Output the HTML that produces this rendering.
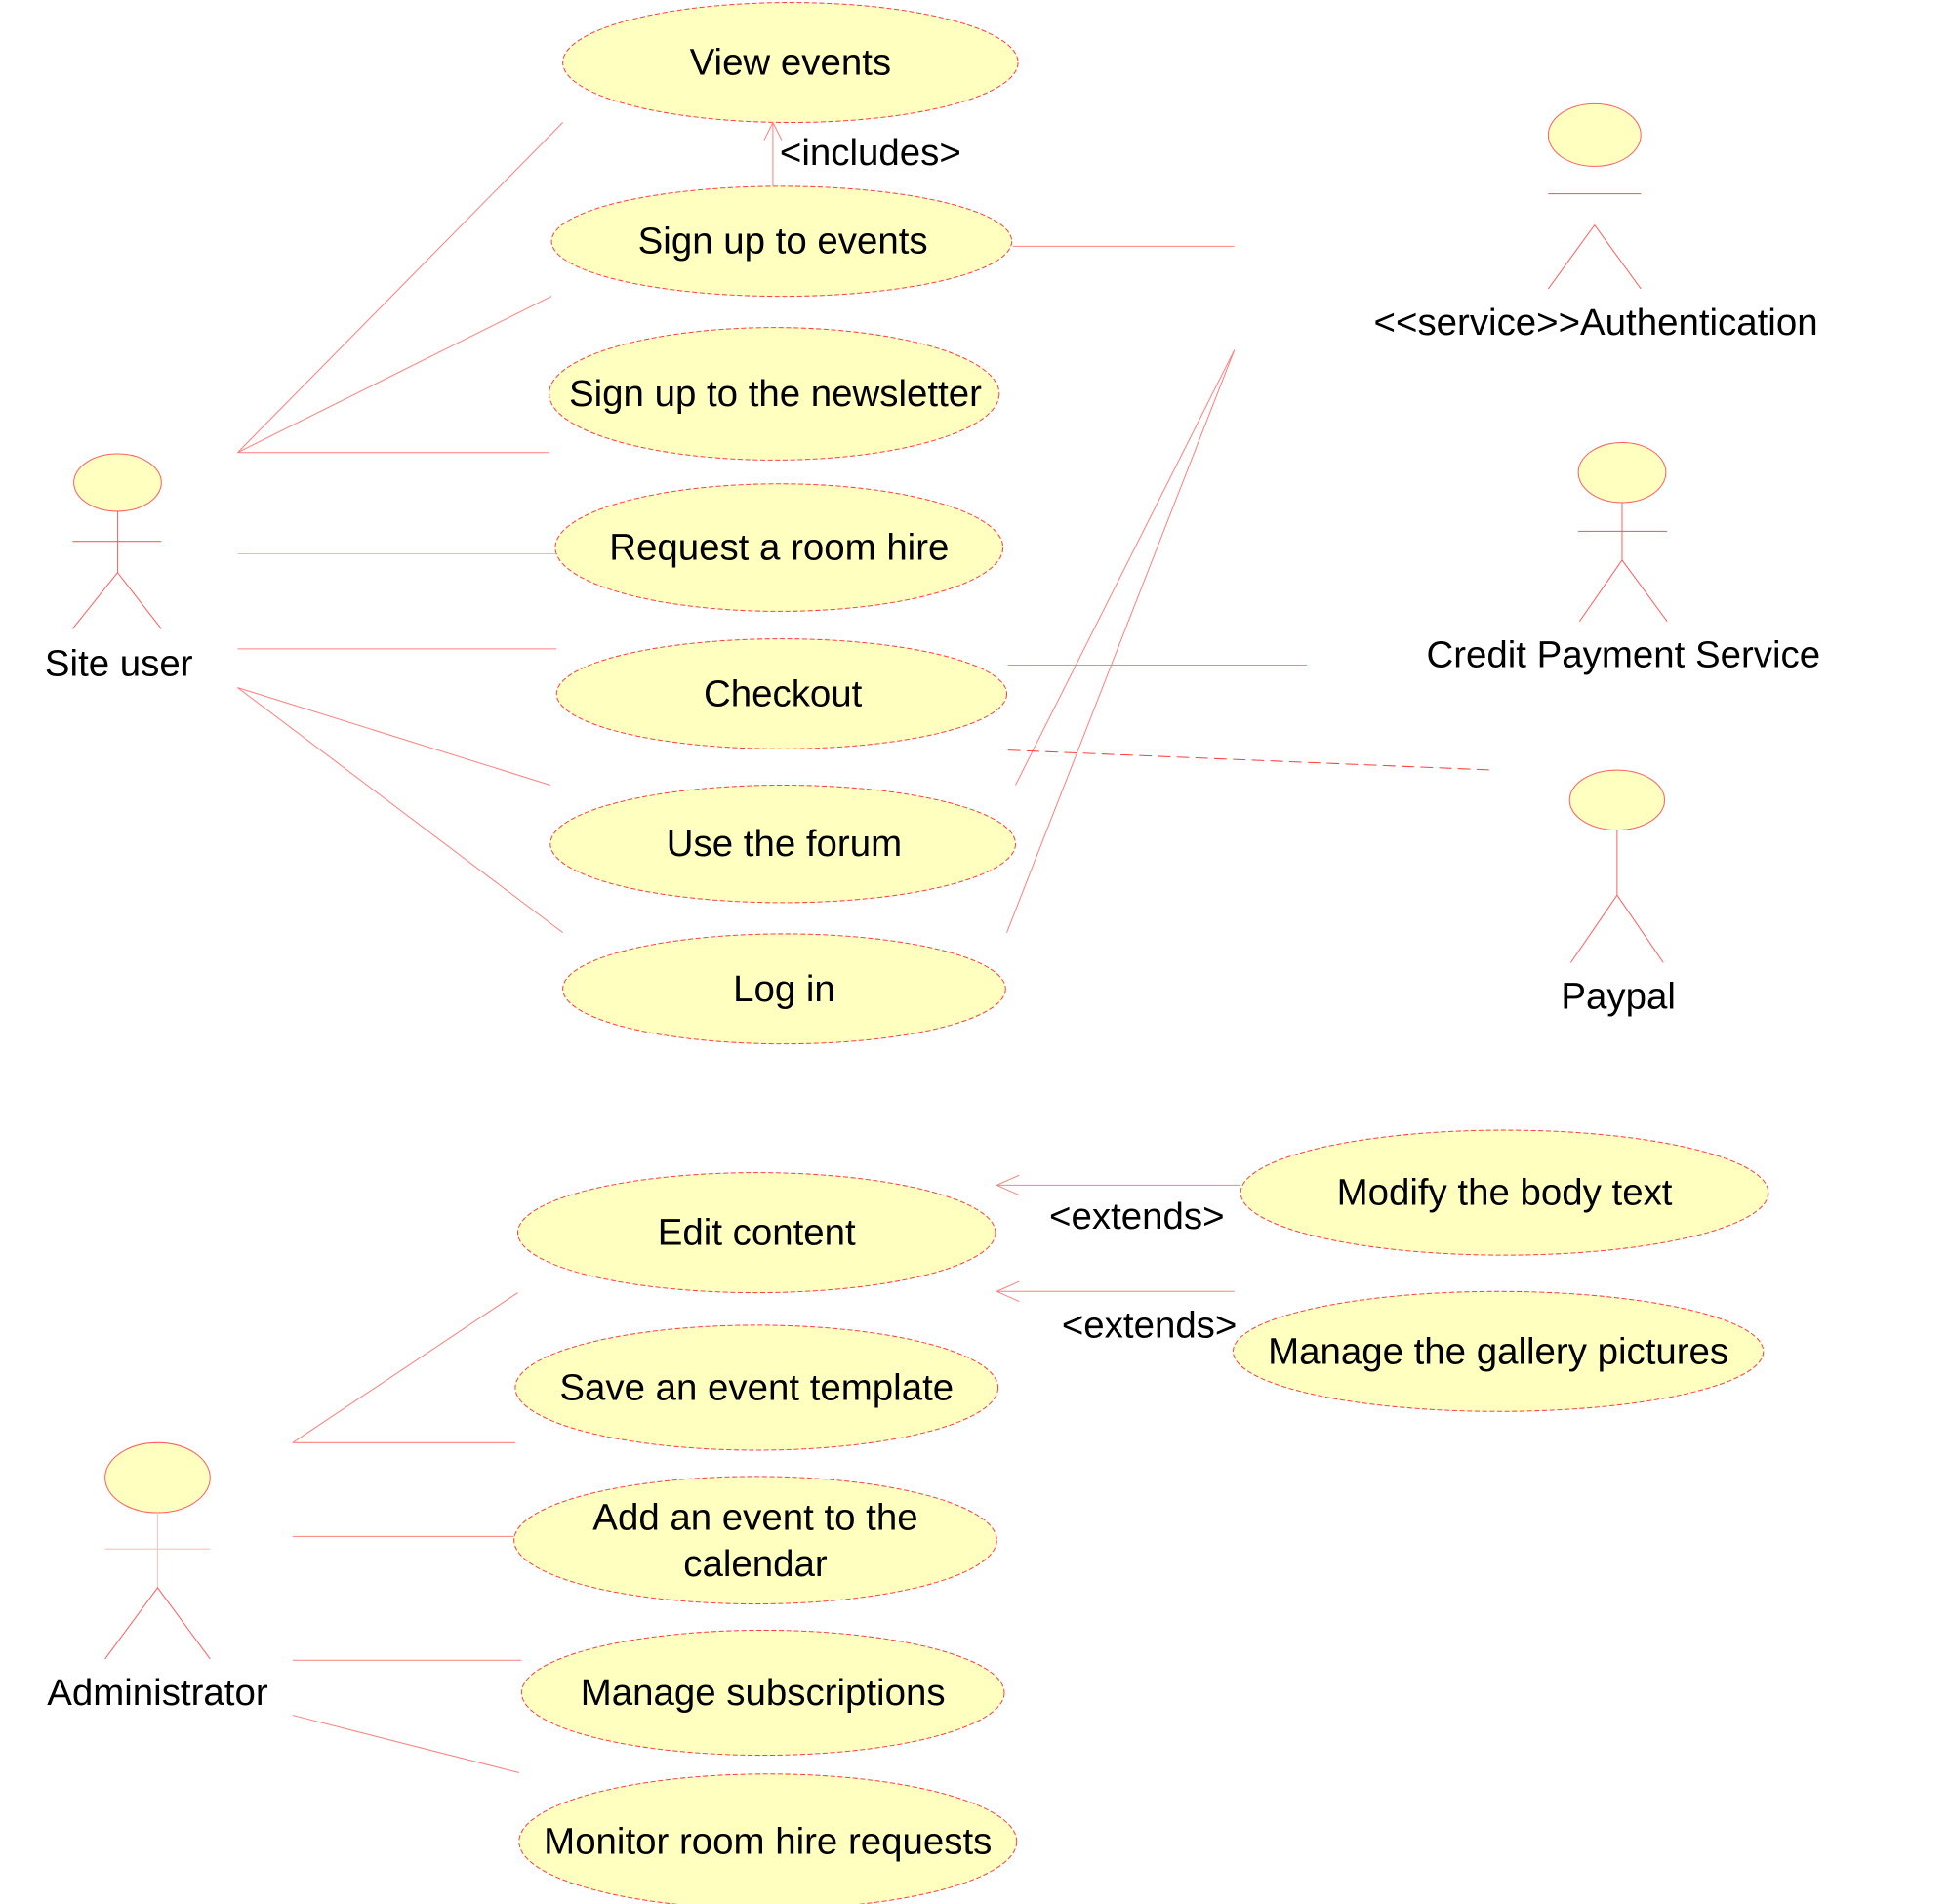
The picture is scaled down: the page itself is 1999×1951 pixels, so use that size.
<!DOCTYPE html>
<html><head><meta charset="utf-8"><style>html,body{margin:0;padding:0;background:#fff;}svg{display:block;}</style></head>
<body>
<svg width="1999" height="1951" viewBox="0 0 1560 1523" preserveAspectRatio="none" xmlns="http://www.w3.org/2000/svg">
<g fill="#ffffc0" stroke="#ff4040" stroke-width="0.8" stroke-dasharray="4,2">
<ellipse cx="632" cy="50" rx="182" ry="48"/>
<ellipse cx="625" cy="193" rx="184" ry="44"/>
<ellipse cx="619" cy="315" rx="180" ry="53"/>
<ellipse cx="623" cy="438" rx="179" ry="51"/>
<ellipse cx="625" cy="555" rx="180" ry="44"/>
<ellipse cx="626" cy="675" rx="186" ry="47"/>
<ellipse cx="627" cy="791" rx="177" ry="44"/>
<ellipse cx="605" cy="986" rx="191" ry="48"/>
<ellipse cx="605" cy="1110" rx="193" ry="50"/>
<ellipse cx="604" cy="1232" rx="193" ry="51"/>
<ellipse cx="610" cy="1354" rx="193" ry="50"/>
<ellipse cx="614" cy="1473" rx="199" ry="54"/>
<ellipse cx="1203" cy="954" rx="211" ry="50"/>
<ellipse cx="1198" cy="1081" rx="212" ry="48"/>
</g>
<g fill="#ffffc0" stroke="#ff6060" stroke-width="0.8">
<ellipse cx="94" cy="386" rx="35" ry="23"/>
<ellipse cx="1275" cy="108" rx="37" ry="25"/>
<ellipse cx="1297" cy="378" rx="35" ry="24"/>
<ellipse cx="1293" cy="640" rx="38" ry="24"/>
<ellipse cx="126" cy="1182" rx="42" ry="28"/>
</g>
<g stroke="#ff6060" stroke-width="0.8" fill="none">
<line x1="94" y1="409" x2="94" y2="458"/><line x1="58" y1="433" x2="129" y2="433"/>
<polyline points="58,503 94,458 129,503"/>
<line x1="1238" y1="155" x2="1312" y2="155"/>
<polyline points="1238,231 1275,180 1312,231"/>
<line x1="1297" y1="402" x2="1297" y2="448"/><line x1="1262" y1="425" x2="1333" y2="425"/>
<polyline points="1263,497 1297,448 1333,497"/>
<line x1="1293" y1="664" x2="1293" y2="716"/>
<polyline points="1256,770 1293,716 1330,770"/>
<line x1="126" y1="1210" x2="126" y2="1270" stroke="#ffc0c0"/><line x1="84" y1="1239" x2="168" y2="1239" stroke="#ffc0c0"/>
<polyline points="84,1327 126,1270 168,1327"/>
</g>
<g stroke="#ff8080" stroke-width="0.8" fill="none">
<line x1="190" y1="362" x2="450" y2="98"/>
<line x1="190" y1="362" x2="441" y2="237"/>
<line x1="190" y1="362" x2="439" y2="362"/>
<line x1="190" y1="443" x2="444" y2="443" stroke="#ffb0b0"/>
<line x1="190" y1="519" x2="445" y2="519"/>
<line x1="190" y1="550" x2="440" y2="628"/>
<line x1="190" y1="550" x2="450" y2="746"/>
<line x1="810" y1="197" x2="987" y2="197"/>
<line x1="987" y1="280" x2="812" y2="628"/>
<line x1="987" y1="280" x2="805" y2="746"/>
<line x1="806" y1="532" x2="1045" y2="532"/>
<line x1="806" y1="600" x2="1195" y2="616" stroke-dasharray="10,5" stroke="#ff4040"/>
<line x1="618" y1="149" x2="618" y2="98"/>
<polyline points="611,112 618,98 625,112"/>
<line x1="234" y1="1154" x2="414" y2="1034"/>
<line x1="234" y1="1154" x2="412" y2="1154"/>
<line x1="234" y1="1229" x2="411" y2="1229"/>
<line x1="234" y1="1328" x2="417" y2="1328"/>
<line x1="234" y1="1372" x2="415" y2="1418"/>
<line x1="992" y1="948" x2="797" y2="948"/>
<polyline points="815,940 797,948 815,956"/>
<line x1="987" y1="1033" x2="797" y2="1033"/>
<polyline points="815,1025 797,1033 815,1041"/>
</g>
<g font-family="Liberation Sans, sans-serif" font-size="30" fill="#000" text-anchor="middle" dominant-baseline="central">
<text x="632" y="50">View events</text>
<text x="696" y="122">&lt;includes&gt;</text>
<text x="626" y="193">Sign up to events</text>
<text x="620" y="315">Sign up to the newsletter</text>
<text x="623" y="438">Request a room hire</text>
<text x="626" y="555">Checkout</text>
<text x="627" y="675">Use the forum</text>
<text x="627" y="791">Log in</text>
<text x="95" y="531">Site user</text>
<text x="1276" y="258">&lt;&lt;service&gt;&gt;Authentication</text>
<text x="1298" y="524">Credit Payment Service</text>
<text x="1294" y="797">Paypal</text>
<text x="605" y="986">Edit content</text>
<text x="909" y="973">&lt;extends&gt;</text>
<text x="919" y="1060">&lt;extends&gt;</text>
<text x="1203" y="954">Modify the body text</text>
<text x="1198" y="1081">Manage the gallery pictures</text>
<text x="605" y="1110">Save an event template</text>
<text x="604" y="1214">Add an event to the</text>
<text x="604" y="1251">calendar</text>
<text x="610" y="1354">Manage subscriptions</text>
<text x="614" y="1473">Monitor room hire requests</text>
<text x="126" y="1354">Administrator</text>
</g>
</svg>
</body></html>
